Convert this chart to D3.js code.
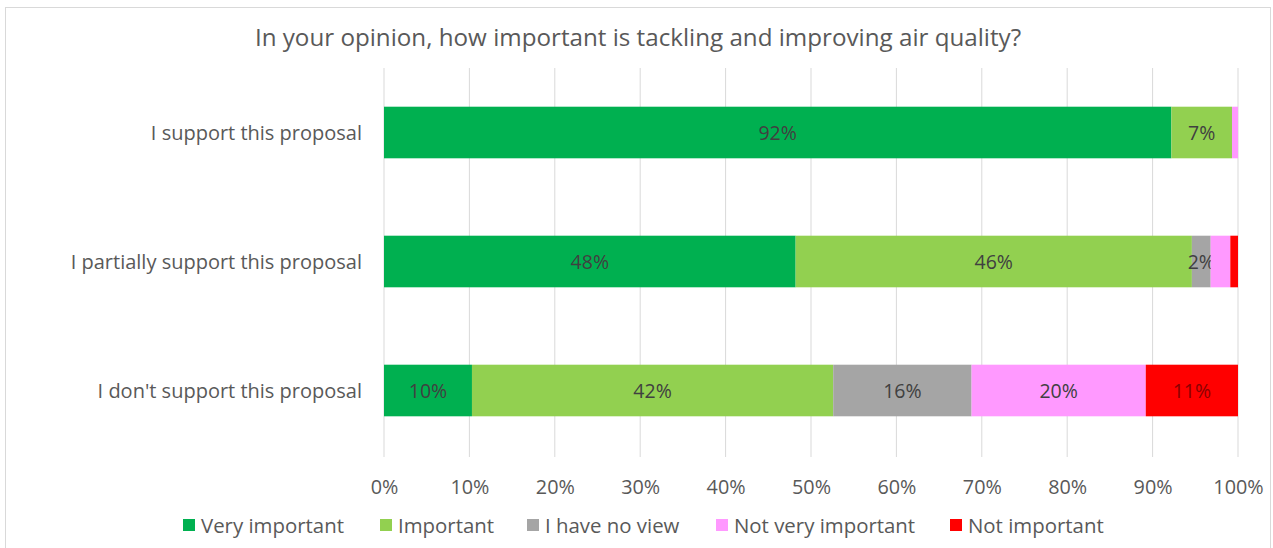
<!DOCTYPE html>
<html><head><meta charset="utf-8">
<script src="https://cdn.jsdelivr.net/npm/d3@7"></script>
<style>body{margin:0;background:#fff}svg{display:block}</style>
</head><body>
<script>
const categories = ["I support this proposal","I partially support this proposal","I don't support this proposal"];
const seriesNames = ["Very important","Important","I have no view","Not very important","Not important"];
const veryImportant = [92.2, 48.2, 10.3];
const important = [7.1, 46.4, 42.3];
const noView = [0, 2.2, 16.2];
const notVery = [0.7, 2.3, 20.4];
const notImportant = [0, 0.9, 10.8];
const barLabels = [["92%","7%","","",""],["48%","46%","2%","",""],["10%","42%","16%","20%","11%"]];
const tickValues = [0,10,20,30,40,50,60,70,80,90,100];
const colors = ["#00B050","#92D050","#A5A5A5","#FF99FF","#FF0000"];
const title = "In your opinion, how important is tackling and improving air quality?";

const W=1273,H=548;
const svg=d3.select("body").append("svg").attr("width",W).attr("height",H);
const font="'Open Sans', sans-serif";
svg.append("rect").attr("x",5.5).attr("y",7.5).attr("width",1265).attr("height",550).attr("fill","#fff").attr("stroke","#D9D9D9");

const x=d3.scaleLinear().domain([0,100]).range([384,1238]);
const y=d3.scaleBand().domain(categories).range([68,455]).paddingInner(0.6).paddingOuter(0.3);

svg.append("text").attr("x",638).attr("y",46).attr("text-anchor","middle").attr("font-family",font).attr("font-size",24.2).attr("fill","#595959").text(title);

// gridlines
svg.append("g").selectAll("line").data(tickValues).join("line")
  .attr("x1",d=>x(d)).attr("x2",d=>x(d)).attr("y1",68).attr("y2",457).attr("stroke","#D9D9D9").attr("stroke-width",1);

const series=[veryImportant,important,noView,notVery,notImportant];
const rows=categories.map((c,i)=>{const o={cat:c};seriesNames.forEach((s,j)=>o[s]=series[j][i]);return o;});
const stack=d3.stack().keys(seriesNames)(rows);
const g=svg.append("g");
stack.forEach((layer,j)=>{
  g.selectAll(null).data(layer).join("rect")
   .attr("x",d=>x(d[0])).attr("width",d=>x(d[1])-x(d[0]))
   .attr("y",d=>y(d.data.cat)).attr("height",y.bandwidth()).attr("fill",colors[j]);
  g.selectAll(null).data(layer).join("text")
   .attr("x",d=>(x(d[0])+x(d[1]))/2).attr("y",d=>y(d.data.cat)+y.bandwidth()/2+7)
   .attr("text-anchor","middle").attr("font-family",font).attr("font-size",19.5).attr("fill",j==4?"#8B0000":"#404040")
   .text((d,i)=>barLabels[i][j]);
});

// category labels
const ya=d3.axisLeft(y).tickSize(0).tickPadding(0);
const yg=svg.append("g").attr("transform","translate(362,0)").call(ya);
yg.select(".domain").remove();
yg.selectAll("text").attr("font-family",font).attr("font-size",20).attr("fill","#595959").attr("dy","0.35em");

// x axis
const xa=d3.axisBottom(x).tickValues(tickValues).tickFormat(d=>d+"%").tickSize(0).tickPadding(0);
const xg=svg.append("g").attr("transform","translate(0,494)").call(xa);
xg.select(".domain").remove();
xg.selectAll("text").attr("font-family",font).attr("font-size",19.8).attr("fill","#595959").attr("dy",0);

// legend
const legX=[183,380,527,716,950];
const lg=svg.append("g");
seriesNames.forEach((s,j)=>{
  lg.append("rect").attr("x",legX[j]).attr("y",519).attr("width",12).attr("height",12).attr("fill",colors[j]);
  lg.append("text").attr("x",legX[j]+18).attr("y",533).attr("font-family",font).attr("font-size",20.4).attr("fill","#595959").text(s);
});
</script>
</body></html>
